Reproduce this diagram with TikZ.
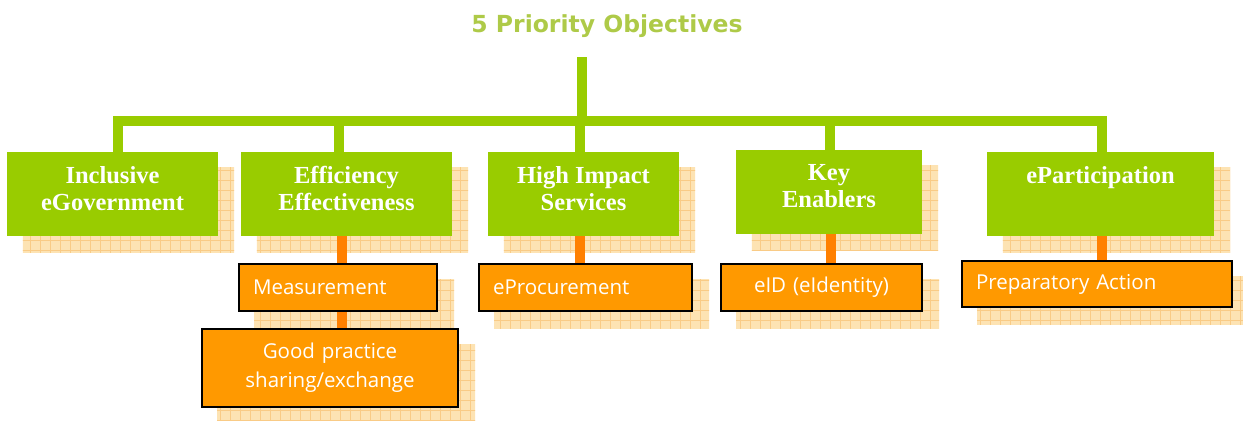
\documentclass[tikz,border=0pt]{standalone}
\usepackage{fontspec}
\setmainfont{Liberation Serif}
\newfontfamily\titlefont{DejaVu Sans}
\newfontfamily\handfont{Open Sans}
\definecolor{gboxc}{HTML}{99CC00}
\definecolor{titlec}{HTML}{AECA48}
\definecolor{oboxc}{HTML}{FF9900}
\definecolor{oconn}{HTML}{FF8000}
\definecolor{shfill}{HTML}{FDE3B3}
\definecolor{shgrid}{HTML}{F9CB86}
\pgfdeclarelayer{shadows}
\pgfdeclarelayer{links}
\pgfsetlayers{shadows,links,main}
\newcommand\shadowof[1]{%
  \begin{scope}
    \clip ([shift={(16,16)}]#1.north west) rectangle ([shift={(16,16)}]#1.south east);
    \fill[shfill] (0pt,0pt) rectangle (1243pt,-421pt);
    \draw[shgrid, line width=0.6pt, step=10pt] (0pt,-421pt) grid (1243pt,0pt);
  \end{scope}}
\begin{document}
\begin{tikzpicture}[x=1pt,y=-1pt,
  gbox/.style={fill=gboxc, draw=none, inner sep=0pt, minimum height=84pt},
  gtext/.style={anchor=north, inner sep=0pt, text=white, align=center,
    font=\fontsize{24.5}{27}\selectfont\bfseries},
  obox/.style={fill=oboxc, draw=black, line width=2pt, inner ysep=0pt,
    inner xsep=14pt, text=white, font=\handfont\fontsize{20.5}{29}\selectfont},
  glink/.style={draw=gboxc, line width=10pt},
  olink/.style={draw=oconn, line width=10pt}]
\useasboundingbox (0,0) rectangle (1243,421);

% title
\node[anchor=base, inner sep=0pt, text=titlec,
  font=\titlefont\bfseries\fontsize{23.5}{28}\selectfont] (title) at (607,32) {5 Priority Objectives};

% green boxes
\node[gbox, minimum width=211pt] (b1) at (112.5,194) {};
\node[gbox, minimum width=211pt] (b2) at (346.5,194) {};
\node[gbox, minimum width=191pt] (b3) at (583.5,194) {};
\node[gbox, minimum width=186pt] (b4) at (829,192) {};
\node[gbox, minimum width=227pt] (b5) at (1100.5,194) {};

\node[gtext] (t1) at ([yshift=-14.5pt]b1.north) {Inclusive\\eGovernment};
\node[gtext] (t2) at ([yshift=-14.5pt]b2.north) {Efficiency\\Effectiveness};
\node[gtext] (t3) at ([yshift=-14.5pt]b3.north) {High Impact\\Services};
\node[gtext] (t4) at ([yshift=-14.5pt]b4.north) {Key\\Enablers};
\node[gtext] (t5) at ([yshift=-14.5pt]b5.north) {eParticipation};

% orange boxes
\node[obox, minimum height=47pt, text width=170pt, align=left] (o2) at (338,287.5) {Measurement};
\node[obox, minimum height=78pt, text width=228pt, align=center] (o2b) at (330,368) {Good practice\\sharing/exchange};
\node[obox, minimum height=47pt, text width=185pt, align=left] (o3) at (585.5,287.5) {eProcurement};
\node[obox, minimum height=47pt, text width=173pt, align=center] (o4) at (821.5,287.5) {eID (eIdentity)};
\node[obox, minimum height=46pt, text width=242pt, align=left] (o5) at (1097,284) {Preparatory Action};

% shadows
\begin{pgfonlayer}{shadows}
  \shadowof{b1}\shadowof{b2}\shadowof{b3}\shadowof{b4}\shadowof{b5}
  \shadowof{o2}\shadowof{o2b}\shadowof{o3}\shadowof{o4}\shadowof{o5}
\end{pgfonlayer}

% connectors
\coordinate (top) at (581.5,57);
\coordinate (barL) at (118,121);
\coordinate (barR) at (1102,121);
\coordinate (j2) at (339,121);
\coordinate (j3) at (580,121);
\coordinate (j4) at (830,121);
\coordinate (k2) at (342,0);
\coordinate (k3) at (580,0);
\coordinate (k4) at (831,0);
\coordinate (k5) at (1102,0);
\begin{pgfonlayer}{links}
  \draw[glink] (top) -- (top |- barL);
  \draw[glink, line join=miter] (b1.north -| barL) -- (barL) -- (barR) -- (b5.north -| barR);
  \draw[glink] (j2) -- (j2 |- b2.north);
  \draw[glink] (j3) -- (j3 |- b3.north);
  \draw[glink] (j4) -- (j4 |- b4.north);
  \draw[olink] (k2 |- b2.south) -- (k2 |- o2.north);
  \draw[olink] (k2 |- o2.south) -- (k2 |- o2b.north);
  \draw[olink] (k3 |- b3.south) -- (k3 |- o3.north);
  \draw[olink] (k4 |- b4.south) -- (k4 |- o4.north);
  \draw[olink] (k5 |- b5.south) -- (k5 |- o5.north);
\end{pgfonlayer}
\end{tikzpicture}
\end{document}
